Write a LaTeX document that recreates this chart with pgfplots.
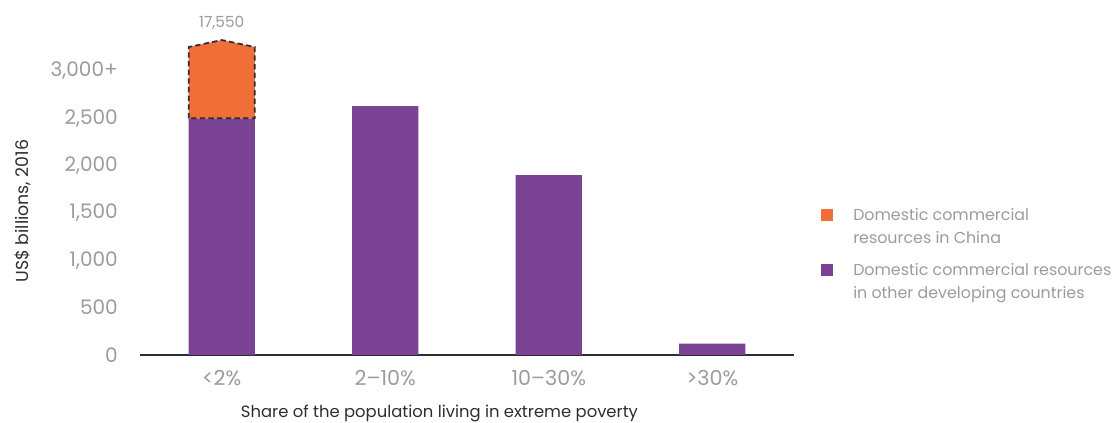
\documentclass[border=0pt]{standalone}
\usepackage{fontspec}
\setmainfont{Poppins}
\usepackage{pgfplots}
\pgfplotsset{compat=1.18}
\definecolor{cpurple}{RGB}{121,66,146}
\definecolor{corange}{RGB}{242,110,56}
\definecolor{tgray}{RGB}{155,155,160}
\definecolor{ggray}{RGB}{220,216,224}
\definecolor{dgray}{RGB}{45,45,50}
\begin{document}
\begin{tikzpicture}
\useasboundingbox (0,0) rectangle (838.5pt,317.25pt);
\begin{axis}[
  at={(105pt,51pt)}, anchor=south west,
  scale only axis, width=490.5pt, height=241.4pt,
  xmin=-0.5, xmax=3.5, ymin=0, ymax=3400,
  axis x line*=bottom, axis y line=none,
  x axis line style={draw=dgray, line width=1.1pt, -},
  xtick={0,1,2,3},
  xticklabels={{<2\%},{2--10\%},{10--30\%},{>30\%}},
  major tick length=0pt,
  xticklabel style={font=\fontsize{15.5}{17}\selectfont, text=tgray, yshift=-8pt},
  ytick={0,500,1000,1500,2000,2500,3000},
  yticklabels={},
  ymajorgrids, grid style={ggray, line width=0.8pt},
  clip=false,
]
\addplot[ybar, bar width=0.405, fill=cpurple, draw=none] coordinates {(0,2500) (1,2630) (2,1901) (3,119)};
\addplot[fill=corange, draw=dgray, line width=1.3pt, dash pattern=on 4pt off 2.5pt]
  coordinates {(-0.2025,2500) (-0.2025,3253) (0,3327) (0.2025,3253) (0.2025,2500)} -- cycle;
\node[text=tgray, font=\fontsize{11.5}{14}\selectfont] at (axis cs:0,3327) [above=4pt] {17,550};
% y tick labels
\foreach \v/\l in {0/0,500/500,1000/{1,000},1500/{1,500},2000/{2,000},2500/{2,500},3000/{3,000+}} {
  \edef\tmp{\noexpand\node[anchor=east, text=tgray, font=\noexpand\fontsize{15}{16}\noexpand\selectfont, inner sep=0pt] at (axis cs:-0.5,\v) [xshift=-16.5pt] {\l};}
  \tmp
}
\end{axis}
\node[text=dgray, font=\fontsize{12.3}{14}\selectfont] at (329.6pt,7.5pt) {Share of the population living in extreme poverty};
\node[rotate=90, text=dgray, font=\fontsize{13}{14}\selectfont] at (17pt,159pt) {US\$ billions, 2016};
% legend
\fill[corange] (615.75pt,151.5pt) rectangle (624.75pt,160.5pt);
\fill[cpurple] (615.75pt,110.25pt) rectangle (624.75pt,119.25pt);
\begin{scope}[every node/.style={anchor=base west, text=tgray, font=\fontsize{11.9}{14}\selectfont, inner sep=0pt}]
\node at (639.75pt,151.5pt) {Domestic commercial};
\node at (639.75pt,134.25pt) {resources in China};
\node at (639.75pt,110.25pt) {Domestic commercial resources};
\node at (639.75pt,93pt) {in other developing countries};
\end{scope}
\end{tikzpicture}
\end{document}
